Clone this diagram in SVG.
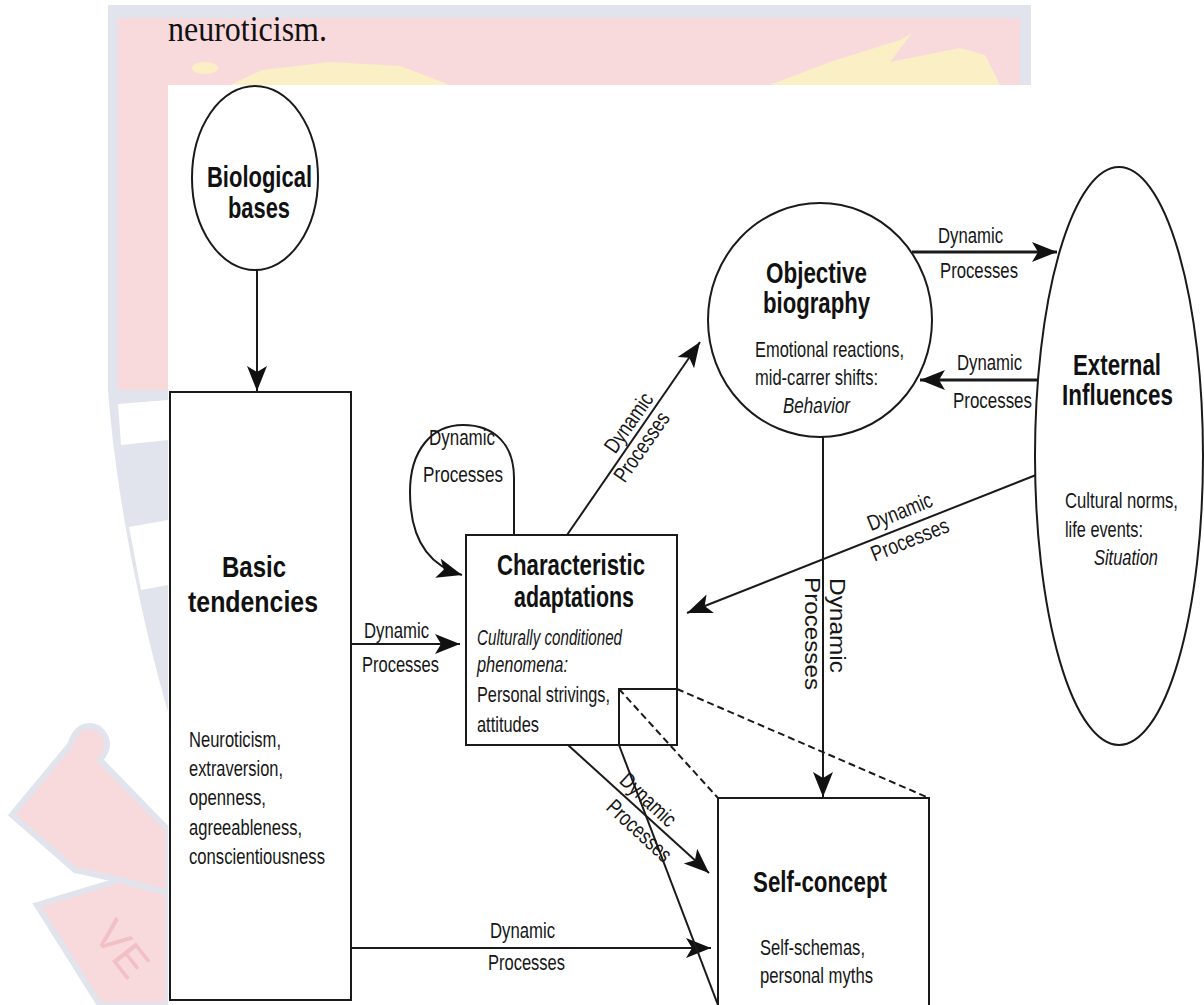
<svg xmlns="http://www.w3.org/2000/svg" width="1204" height="1005" viewBox="0 0 1204 1005">
<defs>
<style>
.t{font-family:"Liberation Sans",Arial,sans-serif;font-size:22px;fill:#161616}
.b{font-family:"Liberation Sans",Arial,sans-serif;font-size:29px;font-weight:bold;fill:#111}
.i{font-style:italic}
.ln{fill:none;stroke:#1a1a1a;stroke-width:2}
.thk{stroke-width:3}
.dash{stroke-dasharray:7 4}
.node{fill:#fff;stroke:#1a1a1a;stroke-width:2}
.wm-blue{fill:#e1e4ed}
.wm-pink{fill:#f8dadd}
.wm-yel{fill:#fbefc6}
</style>
<marker id="ah" markerUnits="userSpaceOnUse" markerWidth="28" markerHeight="22" refX="25" refY="10" orient="auto">
<path d="M0,0 L25,10 L0,20 L6,10 Z" fill="#111"/>
</marker>
</defs>
<rect width="1204" height="1005" fill="#fff"/>
<g id="watermark">
<rect x="108" y="5" width="923" height="385" class="wm-blue"/>
<rect x="118" y="18" width="902" height="372" class="wm-pink"/>
<ellipse cx="205" cy="68" rx="13" ry="6" class="wm-yel"/>
<path d="M230,85 L262,70 L330,62 L400,66 L450,85 Z" class="wm-yel"/>
<path d="M770,85 L830,62 L900,40 L912,33 L890,62 L960,48 L985,55 L1000,85 Z" class="wm-yel"/>
<path d="M108,390 L168,390 L168,712 C150,650 118,520 108,390 Z" class="wm-blue"/>
<path d="M118,404 L168,400 L168,440 L121,445 Z" fill="#fff"/>
<path d="M129,527 L168,520 L168,585 L141,590 Z" fill="#fff"/>
<path d="M70,745 Q78,720 98,728 Q115,742 100,760 L168,830 L168,893 L120,880 L75,870 L12,815 Z" class="wm-pink" stroke="#e1e4ed" stroke-width="6"/>
<path d="M37,905 L120,880 L168,893 L168,1005 L100,1005 Z" class="wm-pink" stroke="#e1e4ed" stroke-width="6"/>
<text transform="translate(92,935) rotate(52)" font-family="Liberation Sans,Arial,sans-serif" font-size="44" fill="#f2bfc4">VE</text>
</g>
<text x="168" y="41" font-family="Liberation Serif,Times New Roman,serif" font-size="36" fill="#111" textLength="159" lengthAdjust="spacingAndGlyphs">neuroticism.</text>
<rect x="168" y="85" width="1036" height="920" fill="#fff"/>
<g id="connectors">
<path class="ln" d="M257,270 L257,391" marker-end="url(#ah)"/>
<path class="ln" d="M351,644 L460,644" marker-end="url(#ah)"/>
<path class="ln" d="M351,948 L711,948" marker-end="url(#ah)"/>
<path class="ln" d="M568,745 L709,873" marker-end="url(#ah)"/>
<path class="ln" d="M567,535 L700,342" marker-end="url(#ah)"/>
<path class="ln thk" d="M912,252 L1057,252" marker-end="url(#ah)"/>
<path class="ln thk" d="M1038,380 L920,380" marker-end="url(#ah)"/>
<path class="ln" d="M1036,475 L687,613" marker-end="url(#ah)"/>
<path class="ln" d="M823,437 L823,797" marker-end="url(#ah)"/>
<path class="ln" d="M514,535 L514,478 C514,445 495,425 463,425 C432,425 410,450 410,492 C410,540 430,566 462,575" marker-end="url(#ah)"/>
</g>
<g id="biological-bases">
<ellipse class="node" cx="255" cy="178" rx="63" ry="92"/>
<text class="b" x="207" y="187" textLength="105" lengthAdjust="spacingAndGlyphs">Biological</text>
<text class="b" x="228" y="218" textLength="62" lengthAdjust="spacingAndGlyphs">bases</text>
</g>
<g id="basic-tendencies">
<rect class="node" x="170" y="392" width="181" height="608"/>
<text class="b" x="222" y="577" textLength="64" lengthAdjust="spacingAndGlyphs">Basic</text>
<text class="b" x="188" y="612" textLength="130" lengthAdjust="spacingAndGlyphs">tendencies</text>
<text class="t" x="189" y="747" textLength="92" lengthAdjust="spacingAndGlyphs">Neuroticism,</text>
<text class="t" x="189" y="776" textLength="94" lengthAdjust="spacingAndGlyphs">extraversion,</text>
<text class="t" x="189" y="805" textLength="77" lengthAdjust="spacingAndGlyphs">openness,</text>
<text class="t" x="189" y="835" textLength="113" lengthAdjust="spacingAndGlyphs">agreeableness,</text>
<text class="t" x="189" y="864" textLength="136" lengthAdjust="spacingAndGlyphs">conscientiousness</text>
</g>
<g id="characteristic-adaptations">
<rect class="node" x="466" y="535" width="211" height="210"/>
<text class="b" x="497" y="575" font-size="28" textLength="148" lengthAdjust="spacingAndGlyphs">Characteristic</text>
<text class="b" x="514" y="607" font-size="28" textLength="120" lengthAdjust="spacingAndGlyphs">adaptations</text>
<text class="t i" x="477" y="645" textLength="145" lengthAdjust="spacingAndGlyphs">Culturally conditioned</text>
<text class="t i" x="477" y="672" textLength="91" lengthAdjust="spacingAndGlyphs">phenomena:</text>
<text class="t" x="477" y="702" textLength="133" lengthAdjust="spacingAndGlyphs">Personal strivings,</text>
<text class="t" x="477" y="732" textLength="62" lengthAdjust="spacingAndGlyphs">attitudes</text>
</g>
<g id="objective-biography">
<ellipse class="node" cx="820" cy="320" rx="112" ry="117"/>
<text class="b" x="766" y="283" textLength="101" lengthAdjust="spacingAndGlyphs">Objective</text>
<text class="b" x="763" y="313" textLength="107" lengthAdjust="spacingAndGlyphs">biography</text>
<text class="t" x="755" y="357" textLength="149" lengthAdjust="spacingAndGlyphs">Emotional reactions,</text>
<text class="t" x="755" y="385" textLength="123" lengthAdjust="spacingAndGlyphs">mid-carrer shifts:</text>
<text class="t i" x="783" y="413" textLength="67" lengthAdjust="spacingAndGlyphs">Behavior</text>
</g>
<g id="external-influences">
<ellipse class="node" cx="1119" cy="456" rx="84" ry="289"/>
<text class="b" x="1073" y="375" textLength="88" lengthAdjust="spacingAndGlyphs">External</text>
<text class="b" x="1062" y="405" textLength="111" lengthAdjust="spacingAndGlyphs">Influences</text>
<text class="t" x="1065" y="508" textLength="113" lengthAdjust="spacingAndGlyphs">Cultural norms,</text>
<text class="t" x="1065" y="537" textLength="78" lengthAdjust="spacingAndGlyphs">life events:</text>
<text class="t i" x="1094" y="565" textLength="64" lengthAdjust="spacingAndGlyphs">Situation</text>
</g>
<g id="self-concept">
<rect class="node" x="718" y="798" width="211" height="220"/>
<text class="b" x="753" y="892" textLength="134" lengthAdjust="spacingAndGlyphs">Self-concept</text>
<text class="t" x="760" y="955" textLength="105" lengthAdjust="spacingAndGlyphs">Self-schemas,</text>
<text class="t" x="760" y="983" textLength="113" lengthAdjust="spacingAndGlyphs">personal myths</text>
</g>
<g id="inset-projection">
<path class="ln" d="M619,745 L619,689 L677,689"/>
<path class="ln dash" d="M619,689 L718,798"/>
<path class="ln dash" d="M677,689 L929,798"/>
<path class="ln" d="M619,745 L718,1005"/>
</g>
<g id="labels">
<text class="t" x="364" y="638" textLength="65" lengthAdjust="spacingAndGlyphs">Dynamic</text>
<text class="t" x="362" y="672" textLength="77" lengthAdjust="spacingAndGlyphs">Processes</text>
<text class="t" x="490" y="938" textLength="65" lengthAdjust="spacingAndGlyphs">Dynamic</text>
<text class="t" x="488" y="970" textLength="77" lengthAdjust="spacingAndGlyphs">Processes</text>
<text class="t" x="429" y="445" textLength="66" lengthAdjust="spacingAndGlyphs">Dynamic</text>
<text class="t" x="423" y="482" textLength="80" lengthAdjust="spacingAndGlyphs">Processes</text>
<text class="t" x="938" y="243" textLength="65" lengthAdjust="spacingAndGlyphs">Dynamic</text>
<text class="t" x="940" y="278" textLength="78" lengthAdjust="spacingAndGlyphs">Processes</text>
<text class="t" x="957" y="370" textLength="65" lengthAdjust="spacingAndGlyphs">Dynamic</text>
<text class="t" x="953" y="408" textLength="79" lengthAdjust="spacingAndGlyphs">Processes</text>
<text class="t" transform="translate(629,423) rotate(-55)" x="-34" y="7" textLength="68" lengthAdjust="spacingAndGlyphs">Dynamic</text>
<text class="t" transform="translate(642,447) rotate(-55)" x="-40" y="7" textLength="80" lengthAdjust="spacingAndGlyphs">Processes</text>
<text class="t" transform="translate(900,512) rotate(-22)" x="-34" y="7" textLength="68" lengthAdjust="spacingAndGlyphs">Dynamic</text>
<text class="t" transform="translate(910,540) rotate(-22)" x="-41" y="7" textLength="82" lengthAdjust="spacingAndGlyphs">Processes</text>
<text class="t" transform="translate(648,800) rotate(43)" x="-34" y="7" textLength="68" lengthAdjust="spacingAndGlyphs">Dynamic</text>
<text class="t" transform="translate(639,831) rotate(43)" x="-40" y="7" textLength="80" lengthAdjust="spacingAndGlyphs">Processes</text>
<text class="t" transform="translate(830,578) rotate(90)" x="0" y="0" textLength="95" lengthAdjust="spacingAndGlyphs">Dynamic</text>
<text class="t" transform="translate(805,577) rotate(90)" x="0" y="0" textLength="113" lengthAdjust="spacingAndGlyphs">Processes</text>
</g>
</svg>
